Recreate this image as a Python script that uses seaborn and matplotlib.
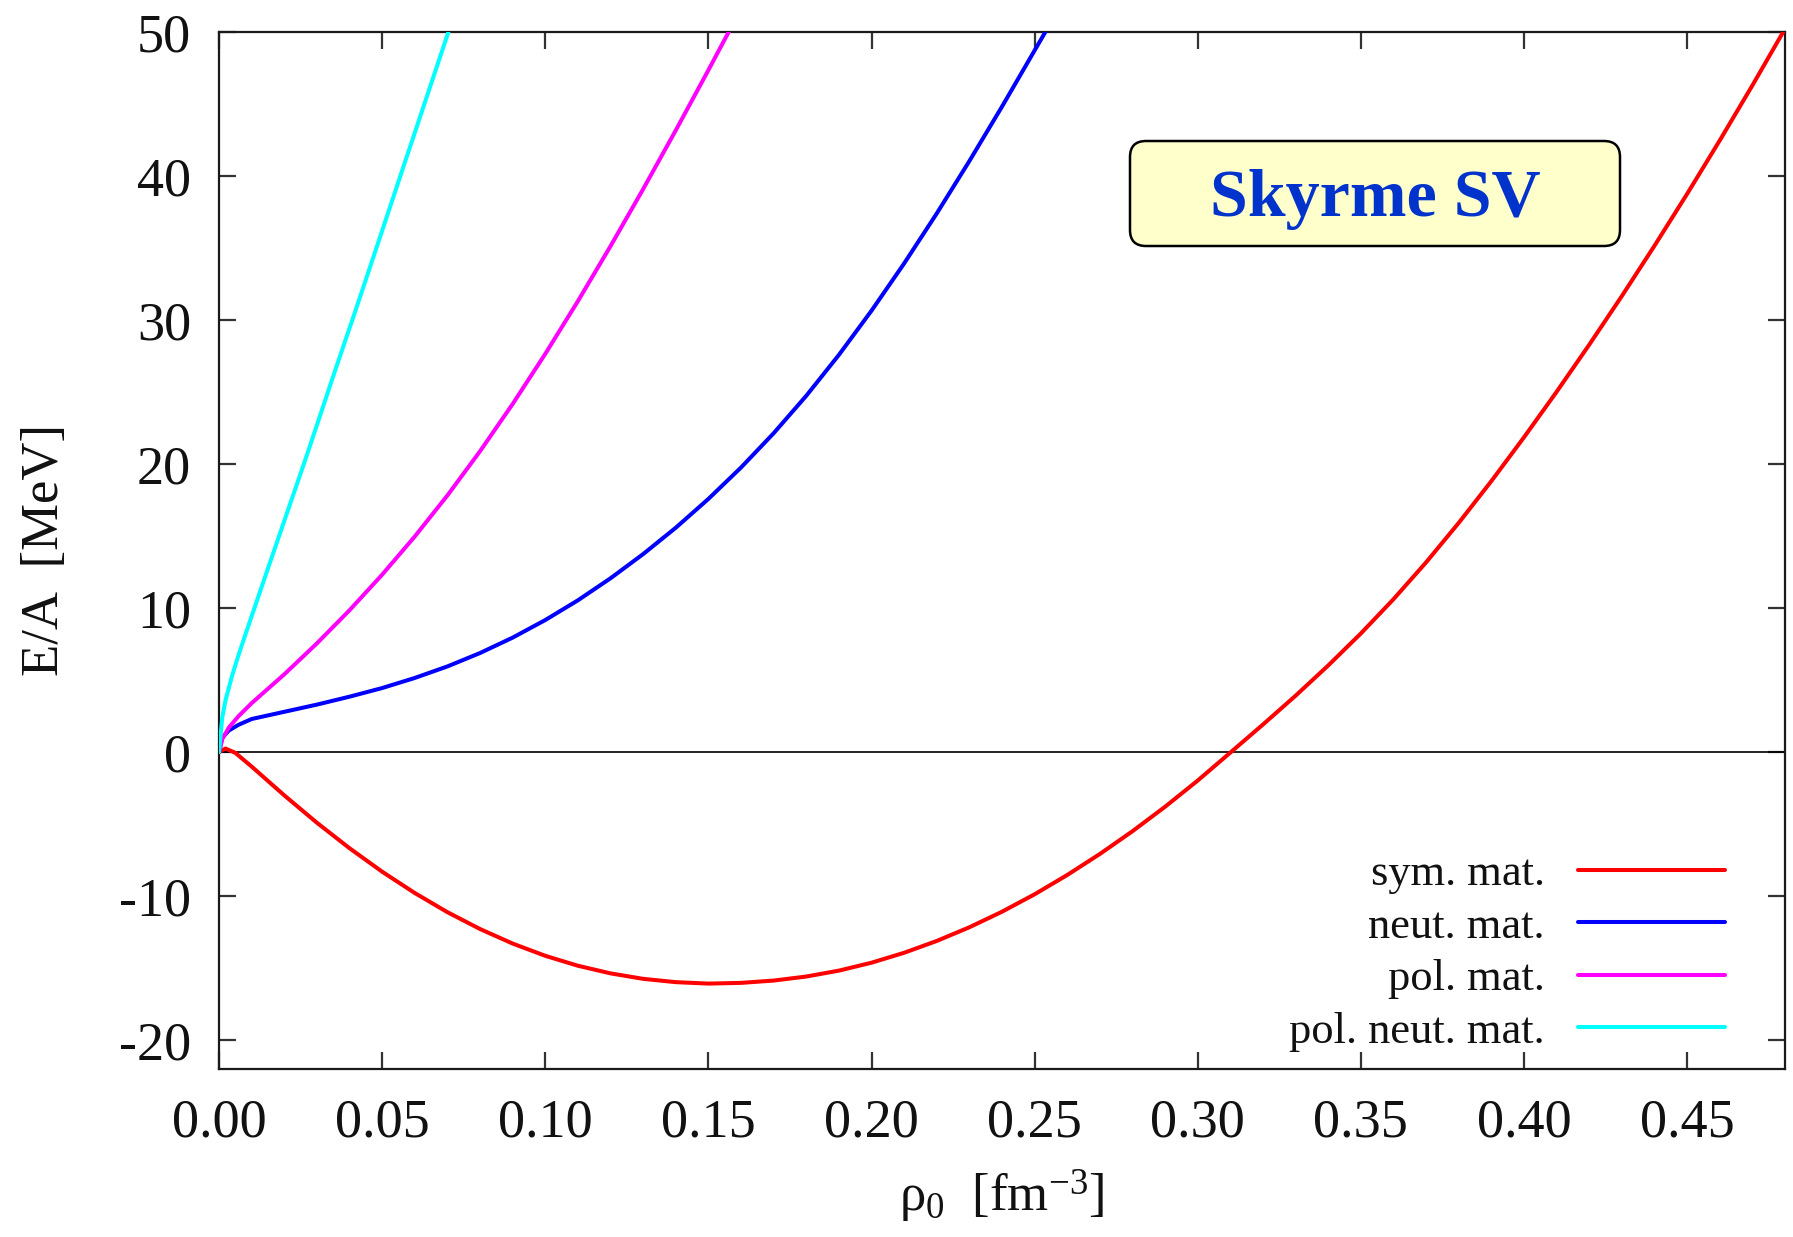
import matplotlib
matplotlib.use("Agg")
import matplotlib.pyplot as plt
import numpy as np
import pandas as pd
import seaborn as sns
from matplotlib.patches import FancyBboxPatch
from matplotlib.transforms import IdentityTransform
from matplotlib.ticker import FixedLocator, FuncFormatter

# Energy per nucleon E/A [MeV] versus density rho_0 [fm^-3], Skyrme SV
sym_rho = [0.0, 0.002, 0.005, 0.01, 0.02, 0.03, 0.04, 0.05, 0.06, 0.07, 0.08,
           0.09, 0.10, 0.11, 0.12, 0.13, 0.14, 0.15, 0.16, 0.17, 0.18, 0.19,
           0.20, 0.21, 0.22, 0.23, 0.24, 0.25, 0.26, 0.27, 0.28, 0.29, 0.30,
           0.31, 0.32, 0.33, 0.34, 0.35, 0.36, 0.37, 0.38, 0.39, 0.40, 0.41,
           0.42, 0.43, 0.44, 0.45, 0.46, 0.47, 0.48]
sym_E = [0.0, 0.25, -0.05, -1.0, -3.0, -4.9, -6.67, -8.3, -9.78, -11.11,
         -12.28, -13.29, -14.14, -14.83, -15.36, -15.74, -15.97, -16.07,
         -16.02, -15.86, -15.58, -15.17, -14.62, -13.93, -13.11, -12.16,
         -11.08, -9.87, -8.53, -7.07, -5.49, -3.79, -1.97, -0.03, 1.92, 3.92,
         6.02, 8.24, 10.62, 13.18, 15.92, 18.82, 21.86, 25.02, 28.29, 31.67,
         35.16, 38.76, 42.47, 46.29, 50.22]

neut_rho = [0.0, 0.001, 0.003, 0.006, 0.01, 0.02, 0.03, 0.04, 0.05, 0.06,
            0.07, 0.08, 0.09, 0.10, 0.11, 0.12, 0.13, 0.14, 0.15, 0.16, 0.17,
            0.18, 0.19, 0.20, 0.21, 0.22, 0.23, 0.24, 0.25, 0.26]
neut_E = [0.0, 1.0, 1.5, 1.9, 2.3, 2.8, 3.3, 3.85, 4.45, 5.15, 5.95, 6.88,
          7.95, 9.17, 10.54, 12.07, 13.75, 15.58, 17.58, 19.76, 22.14, 24.74,
          27.58, 30.65, 33.93, 37.4, 41.04, 44.82, 48.72, 52.62]

pol_rho = [0.0, 0.001, 0.003, 0.006, 0.01, 0.02, 0.03, 0.04, 0.05, 0.06,
           0.07, 0.08, 0.09, 0.10, 0.11, 0.12, 0.13, 0.14, 0.15, 0.16]
pol_E = [0.0, 0.9, 1.7, 2.5, 3.4, 5.4, 7.55, 9.85, 12.32, 14.97, 17.82,
         20.89, 24.17, 27.65, 31.31, 35.13, 39.09, 43.17, 47.35, 51.61]

polneut_rho = [0.0, 0.001, 0.002, 0.004, 0.006, 0.008, 0.010, 0.012, 0.015,
               0.020, 0.026, 0.030, 0.035, 0.041, 0.045, 0.050, 0.0566,
               0.060, 0.065, 0.0709, 0.072]
polneut_E = [0.0, 2.4, 3.6, 5.3, 6.75, 8.1, 9.43, 10.76, 12.75, 16.05, 20.0,
             22.7, 26.1, 30.1, 32.8, 36.2, 40.7, 43.0, 46.4, 50.4, 51.2]

labels = ["sym. mat.", "neut. mat.", "pol. mat.", "pol. neut. mat."]
colors = ["#ff0000", "#0000ff", "#ff00ff", "#00ffff"]

x_ticks = [0.00, 0.05, 0.10, 0.15, 0.20, 0.25, 0.30, 0.35, 0.40, 0.45]
y_ticks = [-20, -10, 0, 10, 20, 30, 40, 50]

series = [(sym_rho, sym_E), (neut_rho, neut_E), (pol_rho, pol_E),
          (polneut_rho, polneut_E)]
frames = [pd.DataFrame({"rho": r, "E": e, "matter": lab})
          for (r, e), lab in zip(series, labels)]
df = pd.concat(frames, ignore_index=True)

sns.set_theme(style="ticks")
plt.rcParams["font.family"] = ["Liberation Serif", "DejaVu Serif"]
plt.rcParams["mathtext.fontset"] = "custom"
plt.rcParams["mathtext.rm"] = "Liberation Serif"
plt.rcParams["mathtext.it"] = "Liberation Serif:italic"
plt.rcParams["mathtext.default"] = "regular"
plt.rcParams["axes.unicode_minus"] = False

W, H = 1793, 1237
fig = plt.figure(figsize=(W / 100, H / 100), dpi=100)
ax = fig.add_axes([219 / W, 1 - 1069 / H, (1785 - 219) / W, (1069 - 32) / H])

ax.axhline(0, color="black", lw=1.2, zorder=1)

sns.lineplot(data=df, x="rho", y="E", hue="matter", hue_order=labels,
             palette=colors, estimator=None, sort=True, lw=2.9, ax=ax,
             zorder=3)

ax.set_xlim(0.0, 0.48)
ax.set_ylim(-22, 50)
ax.xaxis.set_major_locator(FixedLocator(x_ticks))
ax.yaxis.set_major_locator(FixedLocator(y_ticks))
ax.xaxis.set_major_formatter(FuncFormatter(lambda v, p: f"{v:.2f}"))
ax.yaxis.set_major_formatter(FuncFormatter(lambda v, p: f"{v:g}"))

for s in ax.spines.values():
    s.set_visible(True)
    s.set_linewidth(1.6)
    s.set_color("#1a1a1a")
ax.tick_params(axis="both", which="major", direction="in", length=12,
               width=1.6, color="#333333", top=True, right=True,
               labelsize=39, labelcolor="#111111")
ax.tick_params(axis="y", pad=20)
ax.tick_params(axis="x", pad=21)

ax.set_xlabel(r"ρ$_0$  [fm$^{-3}$]", fontsize=38, color="#111111",
              labelpad=14)
ax.set_ylabel("E/A  [MeV]", fontsize=38, color="#111111", labelpad=36)

handles, labs = ax.get_legend_handles_labels()
leg = ax.legend(handles, labs, loc="lower right",
                bbox_to_anchor=((1725 - 219) / (1785 - 219),
                                (1069 - 1052) / (1069 - 32)),
                frameon=False, markerfirst=False, fontsize=32,
                handlelength=3.3, handletextpad=0.75, labelspacing=0.28,
                borderpad=0, borderaxespad=0)
for t in leg.get_texts():
    t.set_color("#111111")
for h in leg.get_lines():
    h.set_linewidth(2.9)

# title box in the upper right of the plot
box = FancyBboxPatch((1130, H - 246), 1620 - 1130, 246 - 141,
                     boxstyle="round,pad=0,rounding_size=16",
                     transform=IdentityTransform(), facecolor="#ffffcc",
                     edgecolor="black", linewidth=1.8, zorder=5)
fig.patches.append(box)
fig.text(1375 / W, 1 - 216 / H, "Skyrme SV", ha="center", va="baseline",
         fontsize=49, fontweight="bold", color="#0033cc", zorder=6)

fig.savefig("out.png", dpi=100, facecolor="white")
